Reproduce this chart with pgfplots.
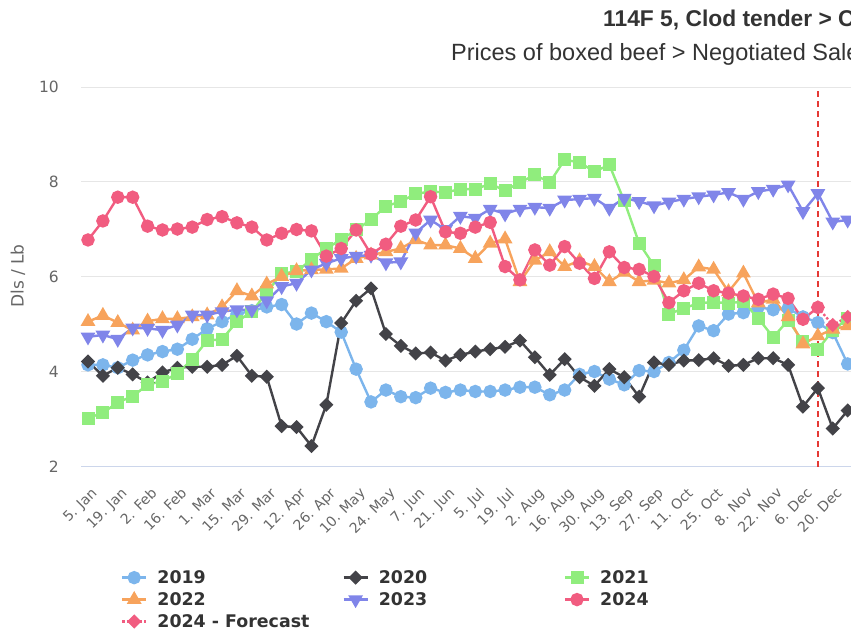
\documentclass[border=0pt]{standalone}
\usepackage{fontspec}
\setmainfont{DejaVu Sans}
\newfontfamily\titlefont{Liberation Sans}
\usepackage{pgfplots}
\usepackage{pgfplotstable}
\pgfplotsset{compat=1.18}
\definecolor{cA}{HTML}{7CB5EC}
\definecolor{cB}{HTML}{434348}
\definecolor{cC}{HTML}{90ED7D}
\definecolor{cD}{HTML}{F7A35C}
\definecolor{cE}{HTML}{8085E9}
\definecolor{cF}{HTML}{F15C80}
\definecolor{gridc}{HTML}{E6E6E6}
\definecolor{axc}{HTML}{CCD6EB}
\definecolor{t666}{HTML}{666666}
\definecolor{t333}{HTML}{333333}
\definecolor{fcred}{HTML}{E53935}

\pgfplotstableread{
i  a     b     c     d     e     f
0  4.15  4.22  3.03  5.06  4.74  6.78
1  4.15  3.92  3.14  5.19  4.78  7.18
2  4.09  4.09  3.36  5.04  4.69  7.68
3  4.25  3.95  3.49  4.88  4.93  7.68
4  4.36  3.78  3.73  5.07  4.92  7.07
5  4.43  3.99  3.81  5.12  4.88  6.99
6  4.48  4.09  3.96  5.12  4.99  7.01
7  4.69  4.11  4.27  5.16  5.20  7.05
8  4.91  4.11  4.66  5.20  5.20  7.21
9  5.06  4.15  4.69  5.37  5.27  7.27
10 5.22  4.34  5.06  5.71  5.31  7.14
11 5.29  3.92  5.27  5.60  5.31  7.05
12 5.37  3.90  5.67  5.85  5.50  6.78
13 5.42  2.86  6.08  6.01  5.80  6.92
14 5.01  2.84  6.11  6.13  5.87  7.00
15 5.24  2.44  6.37  6.15  6.15  6.97
16 5.06  3.31  6.60  6.16  6.29  6.44
17 4.84  5.03  6.79  6.18  6.39  6.60
18 4.06  5.50  6.99  6.39  6.44  6.99
19 3.37  5.76  7.21  6.46  6.46  6.48
20 3.62  4.80  7.49  6.53  6.30  6.69
21 3.48  4.55  7.59  6.60  6.32  7.07
22 3.46  4.39  7.75  6.78  6.93  7.20
23 3.66  4.41  7.80  6.67  7.20  7.69
24 3.57  4.24  7.78  6.67  7.00  6.95
25 3.62  4.36  7.85  6.60  7.28  6.92
26 3.59  4.43  7.85  6.39  7.24  7.05
27 3.59  4.48  7.96  6.71  7.43  7.15
28 3.62  4.53  7.82  6.80  7.33  6.22
29 3.68  4.66  7.99  5.90  7.43  5.94
30 3.68  4.31  8.15  6.35  7.47  6.57
31 3.52  3.94  7.99  6.53  7.45  6.25
32 3.62  4.27  8.47  6.22  7.62  6.64
33 3.95  3.89  8.41  6.34  7.64  6.29
34 4.01  3.71  8.22  6.22  7.66  5.97
35 3.85  4.06  8.36  5.90  7.45  6.53
36 3.73  3.89  7.60  6.10  7.66  6.20
37 4.03  3.48  6.71  5.90  7.59  6.16
38 4.01  4.20  6.24  5.93  7.50  6.01
39 4.20  4.15  5.22  5.87  7.58  5.46
40 4.46  4.24  5.34  5.94  7.64  5.71
41 4.97  4.25  5.45  6.21  7.69  5.87
42 4.87  4.29  5.47  6.16  7.73  5.71
43 5.22  4.13  5.45  5.69  7.78  5.66
44 5.25  4.15  5.48  6.08  7.64  5.60
45 5.37  4.29  5.13  5.45  7.80  5.53
46 5.31  4.29  4.73  5.53  7.85  5.64
47 5.34  4.15  5.09  5.16  7.94  5.55
48 5.16  3.27  4.64  4.59  7.38  5.11
49 5.04  3.66  4.48  4.76  7.76  5.36
50 4.83  2.81  4.87  4.90  7.16  nan
51 4.17  3.19  5.13  4.97  7.20  nan
}\data

\begin{document}
\begin{tikzpicture}
\useasboundingbox (0pt,0pt) rectangle (851pt,631pt);
\clip (0pt,0pt) rectangle (851pt,631pt);
\begin{axis}[
  at={(81pt,164pt)}, anchor=south west,
  scale only axis, width=789pt, height=380pt,
  xmin=-0.47, xmax=52.5, ymin=2, ymax=10,
  axis x line=bottom, axis y line=left,
  x axis line style={draw=axc, line width=1pt, -},
  y axis line style={draw=none},
  major tick length=0pt,
  ytick={2,4,6,8,10},
  xtick={0,2,...,50},
  xticklabels={5. Jan,19. Jan,2. Feb,16. Feb,1. Mar,15. Mar,29. Mar,12. Apr,26. Apr,10. May,24. May,7. Jun,21. Jun,5. Jul,19. Jul,2. Aug,16. Aug,30. Aug,13. Sep,27. Sep,11. Oct,25. Oct,8. Nov,22. Nov,6. Dec,20. Dec},
  /pgf/number format/assume math mode=true,
  yticklabel style={anchor=east, inner sep=0pt, xshift=-22pt, font=\fontsize{15.5}{18}\selectfont, text=t666},
  xticklabel style={font=\fontsize{14}{16}\selectfont, text=t666, inner sep=0pt, xshift=2.5pt, yshift=-19.5pt, rotate=45, anchor=north east},
  ymajorgrids, major grid style={draw=gridc, line width=1pt},
  unbounded coords=jump,
  every axis plot/.append style={line width=2.4pt},
  legend image code/.code={\draw[mark repeat=2,mark phase=2] plot coordinates {(0pt,0pt) (12pt,0pt) (24pt,0pt)};},
  legend columns=3,
  legend cell align=left,
  legend style={at={(axis description cs:0.0507,-0.267)}, anchor=north west, draw=none, fill=none, inner sep=0pt, outer sep=0pt,
    font=\bfseries\fontsize{17.4}{20}\selectfont, text=t333,
    /tikz/every odd column/.append style={column sep=8pt}, row sep=3.5pt},
]
\addplot[color=cA, mark=*, mark size=5.5pt, mark options={draw=none, fill=cA}] table[x=i, y=a] {\data};
\addlegendentry{\makebox[183pt][l]{2019}}
\addplot[color=cB, mark=square*, mark size=3.8pt, mark options={draw=none, fill=cB, rotate=45}] table[x=i, y=b] {\data};
\addlegendentry{\makebox[183pt][l]{2020}}
\addplot[color=cC, mark=square*, mark size=5.3pt, mark options={draw=none, fill=cC}] table[x=i, y=c] {\data};
\addlegendentry{2021}
\addplot[color=cD, mark=triangle*, mark size=6.2pt, mark options={draw=none, fill=cD}] table[x=i, y=d] {\data};
\addlegendentry{\makebox[183pt][l]{2022}}
\addplot[color=cE, mark=triangle*, mark size=6.2pt, mark options={draw=none, fill=cE, rotate=180}] table[x=i, y=e] {\data};
\addlegendentry{\makebox[183pt][l]{2023}}
\addplot[forget plot, color=cF, dotted, mark=square*, mark size=3.8pt, mark options={solid, draw=none, fill=cF, rotate=45}] coordinates {(49,5.36) (50,4.99) (51,5.16)};
\addplot[color=cF, mark=*, mark size=5.5pt, mark options={draw=none, fill=cF}] table[x=i, y=f] {\data};
\addlegendentry{2024}
\addlegendimage{color=cF, dotted, line width=2.4pt, mark=square*, mark size=3.8pt, mark options={solid, draw=none, fill=cF, rotate=45}}
\addlegendentry{2024 - Forecast}
\addplot[forget plot, color=fcred, line width=1.5pt, dash pattern=on 6pt off 4pt] coordinates {(49,2) (49,10)};
\end{axis}
\node[rotate=90, inner sep=0pt, font=\fontsize{17}{20}\selectfont, text=t666] at (18pt,355pt) {Dls / Lb};
\node[anchor=base west, inner sep=0pt, font=\titlefont\bfseries\fontsize{22.8}{26}\selectfont, text=t333] at (603pt,604pt) {114F 5, Clod tender > Choice};
\node[anchor=base west, inner sep=0pt, font=\titlefont\fontsize{23.5}{28}\selectfont, text=t333] at (451pt,570pt) {Prices of boxed beef > Negotiated Sales};
\end{tikzpicture}
\end{document}
